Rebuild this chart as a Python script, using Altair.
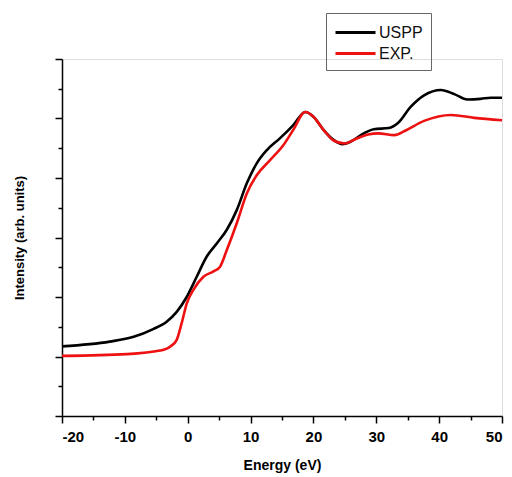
import altair as alt
import pandas as pd

# USPP calculated spectrum
uspp_e = [-20, -12.4, -8.6, -5.5, -3.35, -1.75, -0.16, 1.43, 3.03, 4.62, 6.22, 7.8, 9.4,
          11.0, 12.6, 14.7, 16.8, 18.7, 20.0, 21.6, 23.2, 24.6, 25.9, 28.0, 29.6, 32.0,
          33.4, 35.5, 37.6, 40.3, 42.4, 44.5, 46.6, 48.2, 50]
uspp_i = [1.17, 1.25, 1.33, 1.46, 1.585, 1.75, 2.0, 2.34, 2.68, 2.90, 3.13, 3.46, 3.91,
          4.25, 4.47, 4.67, 4.89, 5.11, 5.03, 4.81, 4.64, 4.57, 4.61, 4.75, 4.82, 4.84,
          4.92, 5.20, 5.39, 5.48, 5.41, 5.32, 5.33, 5.35, 5.35]

# Experimental spectrum
exp_e = [-20, -9.7, -4.4, -2.8, -1.75, -0.96, -0.16, 0.9, 2.5, 4.1, 5.15, 6.22, 7.8, 9.4,
         11.0, 13.1, 15.2, 16.8, 18.7, 20.0, 21.6, 23.2, 25.0, 26.6, 28.7, 30.3, 32.9,
         34.5, 37.6, 41.9, 45.6, 50]
exp_i = [1.01, 1.04, 1.10, 1.165, 1.28, 1.56, 1.89, 2.12, 2.34, 2.43, 2.51, 2.79, 3.24, 3.74,
         4.05, 4.30, 4.55, 4.81, 5.11, 5.03, 4.81, 4.63, 4.58, 4.65, 4.73, 4.75, 4.72,
         4.79, 4.96, 5.06, 5.01, 4.97]

series_names = ["USPP", "EXP."]
series_colors = ["#000000", "#ee1111"]

x_ticks = [v / 2 for v in range(-40, 101, 10)]  # every 5 eV
y_ticks = [v / 2 for v in range(0, 13)]

df = pd.concat([
    pd.DataFrame({"energy": uspp_e, "intensity": uspp_i, "series": "USPP"}),
    pd.DataFrame({"energy": exp_e, "intensity": exp_i, "series": "EXP."}),
])

FONT = "Liberation Sans"

chart = alt.Chart(df).mark_line(strokeWidth=2.6, interpolate="monotone").encode(
    x=alt.X("energy:Q",
            scale=alt.Scale(domain=[-20, 50], nice=False, zero=False),
            axis=alt.Axis(values=x_ticks, title="Energy (eV)", grid=False,
                          labelExpr="datum.value % 10 === 0 ? toString(datum.value) : ''",
                          tickSize={"condition": {"test": "datum.value % 10 === 0", "value": 7}, "value": 4},
                          domainColor="black", tickColor="black", domainWidth=1.5, tickWidth=1.5,
                          labelFont=FONT, labelFontSize=15, labelFontWeight="bold",
                          labelColor="black", labelPadding=6,
                          titleFont=FONT, titleFontSize=14, titleFontWeight="bold",
                          titleColor="black", titlePadding=14)),
    y=alt.Y("intensity:Q",
            scale=alt.Scale(domain=[0, 6], nice=False, zero=False),
            axis=alt.Axis(values=y_ticks, title="Intensity (arb. units)", grid=False,
                          labels=False,
                          tickSize={"condition": {"test": "datum.value % 1 === 0", "value": 7}, "value": 4},
                          domainColor="black", tickColor="black", domainWidth=1.5, tickWidth=1.5,
                          titleFont=FONT, titleFontSize=13, titleFontWeight="bold",
                          titleColor="black", titlePadding=28)),
    color=alt.Color("series:N",
                    scale=alt.Scale(domain=series_names, range=series_colors),
                    sort=series_names,
                    legend=alt.Legend(title=None, orient="none", legendX=264, legendY=-46,
                                      symbolType="M-1,0H3", symbolStrokeWidth=3, symbolSize=400,
                                      labelFont=FONT, labelFontSize=16, labelColor="#111111",
                                      strokeColor="#666666", padding=8, rowPadding=1,
                                      labelOffset=22)),
).properties(
    width=440, height=357,
    autosize=alt.AutoSizeParams(type="none"),
    padding={"left": 62, "top": 59, "right": 10, "bottom": 61},
).configure_view(stroke=None).configure(background="white")

chart.save("out.html", embed_options={"renderer": "svg", "actions": False})
